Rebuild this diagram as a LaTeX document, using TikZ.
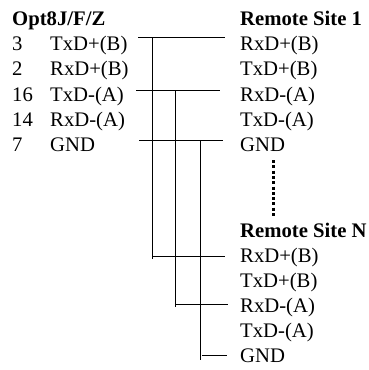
\documentclass[tikz,border=0pt]{standalone}
\usepackage{fontspec}
\setmainfont{Liberation Serif}
\tikzset{lbl/.style={anchor=base west,inner sep=0pt,font=\fontsize{20.7}{24}\selectfont},
head/.style={lbl,font=\fontsize{20.7}{24}\selectfont\bfseries},
wire/.style={line width=1pt,black}}
\begin{document}
\begin{tikzpicture}[x=1pt,y=-1pt]
\useasboundingbox (0,0) rectangle (369,370);
\node[head] (h1) at (12,25) {Opt8J/F/Z};
\node[lbl] (n3) at (12,50) {3};
\node[lbl] (n2) at (12,75) {2};
\node[lbl] (n16) at (12,101) {16};
\node[lbl] (n14) at (12,126) {14};
\node[lbl] (n7) at (12,151) {7};
\node[lbl] (a1) at (50,50) {TxD+(B)};
\node[lbl] (a2) at (50,75) {RxD+(B)};
\node[lbl] (a3) at (50,101) {TxD-(A)};
\node[lbl] (a4) at (50,126) {RxD-(A)};
\node[lbl] (a5) at (50,151) {GND};
\node[head] (h2) at (240,25) {Remote Site 1};
\node[lbl] (b1) at (240,50) {RxD+(B)};
\node[lbl] (b2) at (240,75) {TxD+(B)};
\node[lbl] (b3) at (240,101) {RxD-(A)};
\node[lbl] (b4) at (240,126) {TxD-(A)};
\node[lbl] (b5) at (240,151) {GND};
\node[head] (h3) at (240,237) {Remote Site N};
\node[lbl] (c1) at (240,262) {RxD+(B)};
\node[lbl] (c2) at (240,287) {TxD+(B)};
\node[lbl] (c3) at (240,312) {RxD-(A)};
\node[lbl] (c4) at (240,337) {TxD-(A)};
\node[lbl] (c5) at (240,362) {GND};
\draw[wire] (138,37.7) -- (225,37.7);
\draw[wire] (136,90.3) -- (220,90.3);
\draw[wire] (139,140.7) -- (223,140.7);
\draw[wire] (152.7,37.7) -- (152.7,259);
\draw[wire] (175.6,90.3) -- (175.6,306.5);
\draw[wire] (200.7,140.7) -- (200.7,360);
\draw[wire] (152,256) -- (225,256);
\draw[wire] (175.6,304) -- (228,304);
\draw[wire] (202,355) -- (227,355);
\draw[line width=3pt,dash pattern=on 3pt off 2.3pt] (273.7,160) -- (273.7,217);
\end{tikzpicture}
\end{document}
